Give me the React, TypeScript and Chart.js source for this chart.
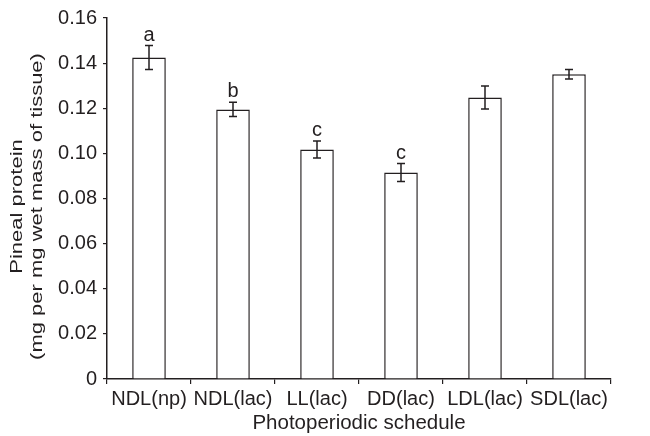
import React, { useEffect, useRef } from "react";
import { Chart, registerables } from "chart.js";

Chart.register(...registerables);

const categories = ["NDL(np)", "NDL(lac)", "LL(lac)", "DD(lac)", "LDL(lac)", "SDL(lac)"];
const means = [0.1425, 0.1195, 0.1017, 0.0915, 0.1248, 0.1351];
const errors = [0.0053, 0.0032, 0.0038, 0.004, 0.0051, 0.0021];
const letters = ["a", "b", "c", "c", "", ""];
const yTicks = [0, 0.02, 0.04, 0.06, 0.08, 0.1, 0.12, 0.14, 0.16];
const xTitle = "Photoperiodic schedule";
const yTitle = ["Pineal protein", "(mg per mg wet mass of tissue)"];

const INK = "#231f20";
const FONT = "'Liberation Sans', Arial, Helvetica, sans-serif";

const errorBarPlugin = {
  id: "errorBars",
  afterDatasetsDraw(chart: any) {
    const ctx = chart.ctx;
    const meta = chart.getDatasetMeta(0);
    const y = chart.scales.y;
    ctx.save();
    ctx.strokeStyle = INK;
    ctx.lineWidth = 1.5;
    ctx.fillStyle = INK;
    ctx.font = `20px ${FONT}`;
    ctx.textAlign = "center";
    ctx.textBaseline = "alphabetic";
    meta.data.forEach((bar: any, i: number) => {
      const x = bar.x;
      const top = y.getPixelForValue(means[i] + errors[i]);
      const bot = y.getPixelForValue(means[i] - errors[i]);
      const cap = 4;
      ctx.beginPath();
      ctx.moveTo(x, top);
      ctx.lineTo(x, bot);
      ctx.moveTo(x - cap, top);
      ctx.lineTo(x + cap, top);
      ctx.moveTo(x - cap, bot);
      ctx.lineTo(x + cap, bot);
      ctx.stroke();
      if (letters[i]) {
        ctx.fillText(letters[i], x, top - 5);
      }
    });
    ctx.restore();
  },
};

const yTitlePlugin = {
  id: "yTitle",
  afterDraw(chart: any) {
    const ctx = chart.ctx;
    const area = chart.chartArea;
    const cy = (area.top + area.bottom) / 2 + 8;
    const squash = 0.76;
    ctx.save();
    ctx.fillStyle = INK;
    ctx.font = `22px ${FONT}`;
    ctx.textAlign = "center";
    ctx.textBaseline = "alphabetic";
    ctx.translate(0, cy);
    ctx.rotate(-Math.PI / 2);
    ctx.scale(1, squash);
    ctx.fillText(yTitle[0], 0, 22 / squash);
    ctx.fillText(yTitle[1], 0, 42 / squash);
    ctx.restore();
  },
};

export default function App() {
  const ref = useRef<HTMLCanvasElement | null>(null);
  useEffect(() => {
    document.body.style.margin = "0";
    const canvas = ref.current!;
    const chart = new Chart(canvas, {
      type: "bar",
      data: {
        labels: categories,
        datasets: [
          {
            data: means,
            backgroundColor: "#ffffff",
            borderColor: INK,
            borderWidth: 1.5,
            categoryPercentage: 1,
            barPercentage: 0.4,
          },
        ],
      },
      options: {
        animation: false,
        responsive: false,
        maintainAspectRatio: false,
        layout: { padding: { top: 17, right: 39, left: 0, bottom: 0 } },
        plugins: { legend: { display: false }, tooltip: { enabled: false } },
        scales: {
          x: {
            grid: {
              offset: true,
              drawOnChartArea: false,
              drawTicks: true,
              tickLength: 5,
              color: INK,
              lineWidth: 1.2,
            },
            border: { color: INK, width: 1.5 },
            ticks: {
              color: INK,
              font: { family: FONT, size: 20 },
              padding: 3,
              maxRotation: 0,
              autoSkip: false,
            },
            title: {
              display: true,
              text: xTitle,
              color: INK,
              font: { family: FONT, size: 20.5, lineHeight: 1.2 },
              padding: { top: 0, bottom: 0 },
            },
            afterFit(scale: any) {
              scale.height = 57;
            },
          },
          y: {
            min: 0,
            max: 0.16,
            afterBuildTicks(scale: any) {
              scale.ticks = yTicks.map((v) => ({ value: v }));
            },
            grid: {
              drawOnChartArea: false,
              drawTicks: true,
              tickLength: 4,
              color: INK,
              lineWidth: 1.2,
            },
            border: { color: INK, width: 1.5 },
            ticks: {
              color: INK,
              font: { family: FONT, size: 20 },
              padding: 6,
              callback: (v: any) => (Number(v) === 0 ? "0" : Number(v).toFixed(2)),
            },
            title: { display: false },
            afterFit(scale: any) {
              scale.width = 107;
            },
          },
        },
      },
      plugins: [errorBarPlugin, yTitlePlugin],
    });
    return () => chart.destroy();
  }, []);
  return <canvas ref={ref} width={650} height={436} style={{ display: "block" }} />;
}
